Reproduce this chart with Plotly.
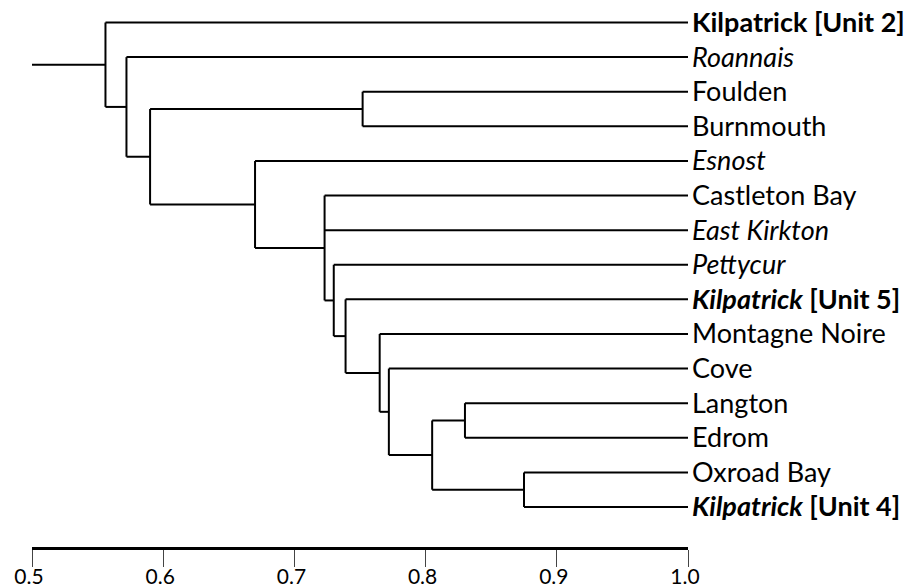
import plotly.graph_objects as go

# ---- data ----
leaf_labels = [
    "<b>Kilpatrick [Unit 2]</b>",
    "<i>Roannais</i>",
    "Foulden",
    "Burnmouth",
    "<i>Esnost</i>",
    "Castleton Bay",
    "<i>East Kirkton</i>",
    "<i>Pettycur</i>",
    "<b><i>Kilpatrick</i> [Unit 5]</b>",
    "Montagne Noire",
    "Cove",
    "Langton",
    "Edrom",
    "Oxroad Bay",
    "<b><i>Kilpatrick</i> [Unit 4]</b>",
]
# internal nodes: ids 15.. in this order; children are leaf indices or node ids
merge_children = [
    [11, 12],        # 15 Langton + Edrom
    [13, 14],        # 16 Oxroad Bay + Kilpatrick U4
    [15, 16],        # 17
    [10, 17],        # 18 Cove
    [9, 18],         # 19 Montagne Noire
    [8, 19],         # 20 Kilpatrick U5
    [7, 20],         # 21 Pettycur
    [5, 6, 21],      # 22 Castleton Bay, East Kirkton
    [4, 22],         # 23 Esnost
    [2, 3],          # 24 Foulden + Burnmouth
    [24, 23],        # 25
    [1, 25],         # 26 Roannais
    [0, 26],         # 27 Kilpatrick U2 (root)
]
merge_similarity = [0.830, 0.875, 0.805, 0.772, 0.765, 0.739, 0.730,
                    0.723, 0.670, 0.752, 0.590, 0.572, 0.556]
root_start = 0.5
leaf_similarity = 1.0
tick_vals = [0.5, 0.6, 0.7, 0.8, 0.9, 1.0]
tick_text = ["0.5", "0.6", "0.7", "0.8", "0.9", "1.0"]

# ---- layout of the tree ----
n_leaves = len(leaf_labels)
pos_y = {i: float(i) for i in range(n_leaves)}
pos_x = {i: leaf_similarity for i in range(n_leaves)}
xs, ys = [], []
for k, (ch, h) in enumerate(zip(merge_children, merge_similarity)):
    nid = n_leaves + k
    cy = [pos_y[c] for c in ch]
    xs += [h, h, None]
    ys += [min(cy), max(cy), None]
    for c in ch:
        xs += [h, pos_x[c], None]
        ys += [pos_y[c], pos_y[c], None]
    pos_y[nid] = (min(cy) + max(cy)) / 2
    pos_x[nid] = h
root = n_leaves + len(merge_children) - 1
xs += [root_start, pos_x[root], None]
ys += [pos_y[root], pos_y[root], None]

FONT = "Lato, Carlito, Calibri, sans-serif"

fig = go.Figure()
fig.add_trace(go.Scatter(
    x=xs, y=ys, mode="lines",
    line=dict(color="black", width=2),
    hoverinfo="skip", showlegend=False,
))

for i, lab in enumerate(leaf_labels):
    fig.add_annotation(
        x=leaf_similarity, y=i, xref="x", yref="y",
        text=lab, showarrow=False, xanchor="left", yanchor="middle",
        xshift=2, yshift=1,
        font=dict(family=FONT, size=27, color="black"),
    )

px_per_leaf = 34.6
top_pad = 12.5 / px_per_leaf
bottom_pad = 40 / px_per_leaf
fig.update_layout(
    width=918, height=587,
    margin=dict(l=32, r=230, t=10, b=40, autoexpand=False),
    plot_bgcolor="white", paper_bgcolor="white",
    showlegend=False,
    xaxis=dict(
        range=[0.5, 1.0], showgrid=False, zeroline=False, automargin=False,
        showline=True, linecolor="black", linewidth=3,
        ticks="outside", ticklen=17, tickwidth=1, tickcolor="#444",
        tickvals=tick_vals, ticktext=tick_text, ticklabelshift=-3,
        ticklabelstandoff=-8,
        tickfont=dict(family=FONT, size=21, color="black"),
    ),
    yaxis=dict(
        range=[n_leaves - 1 + bottom_pad, -top_pad], automargin=False,
        showgrid=False, zeroline=False, showline=False,
        showticklabels=False, ticks="",
    ),
)

fig.write_html(
    "out.html",
    config={"displayModeBar": False},
    post_script="document.body.style.margin='0';document.body.style.overflow='hidden';",
)
